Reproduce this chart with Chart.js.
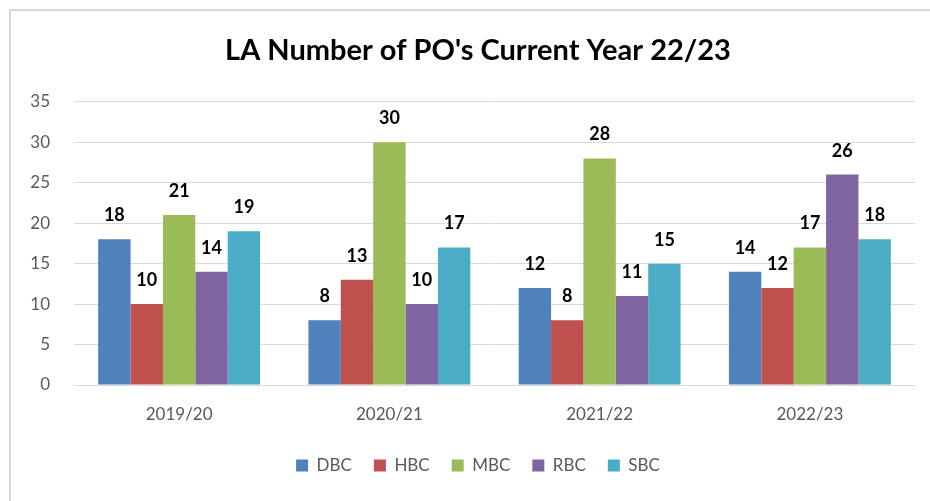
<!DOCTYPE html>
<html>
<head>
<meta charset="utf-8">
<script src="https://cdn.jsdelivr.net/npm/chart.js@4"></script>
<style>
  html, body { margin: 0; padding: 0; background: #fff; }
  #wrap { position: relative; width: 930px; height: 501px; overflow: hidden; }
  #frame { position: absolute; left: 9px; top: 9px; width: 960px; height: 540px; border: 2px solid #d9d9d9; box-sizing: border-box; }
  #c { position: absolute; left: 0; top: 0; }
</style>
</head>
<body>
<div id="wrap">
  <div id="frame"></div>
  <canvas id="c" width="930" height="501"></canvas>
</div>
<script>
const years = ['2019/20', '2020/21', '2021/22', '2022/23'];
const dbc = [18, 8, 12, 14];
const hbc = [10, 13, 8, 12];
const mbc = [21, 30, 28, 17];
const rbc = [14, 10, 11, 26];
const sbc = [19, 17, 15, 18];
const yTicks = [0, 5, 10, 15, 20, 25, 30, 35];

const fontFamily = 'Lato, "Open Sans", sans-serif';

// draw the value above every bar
const valueLabels = {
    id: 'valueLabels',
    afterDatasetsDraw(chart) {
        const ctx = chart.ctx;
        ctx.save();
        ctx.font = 'bold 18px ' + fontFamily;
        ctx.fillStyle = '#000';
        ctx.textAlign = 'center';
        ctx.textBaseline = 'alphabetic';
        chart.data.datasets.forEach((ds, i) => {
            chart.getDatasetMeta(i).data.forEach((bar, j) => {
                ctx.fillText(ds.data[j], bar.x, bar.y - 18);
            });
        });
        ctx.restore();
    }
};

new Chart(document.getElementById('c').getContext('2d'), {
    type: 'bar',
    data: {
        labels: years,
        datasets: [
            { label: 'DBC', data: dbc, backgroundColor: '#4F81BD' },
            { label: 'HBC', data: hbc, backgroundColor: '#C0504D' },
            { label: 'MBC', data: mbc, backgroundColor: '#9BBB59' },
            { label: 'RBC', data: rbc, backgroundColor: '#8064A2' },
            { label: 'SBC', data: sbc, backgroundColor: '#4BACC6' }
        ]
    },
    options: {
        responsive: false,
        animation: false,
        datasets: { bar: { barPercentage: 1, categoryPercentage: 0.77 } },
        layout: { padding: { left: 41, right: 15, top: 0, bottom: 17 } },
        scales: {
            y: {
                min: 0, max: 35,
                afterBuildTicks: (s) => { s.ticks = yTicks.map(v => ({ value: v })); },
                afterFit: (s) => {
                    s.width = 33;
                    // labels hang out past the narrow axis box, so don't clip them
                    s._computeLabelArea = () => undefined;
                },
                ticks: { color: '#595959', font: { family: fontFamily, size: 17 }, padding: 24 },
                grid: { color: '#d9d9d9', drawTicks: false },
                border: { display: false }
            },
            x: {
                afterFit: (s) => { s.height = 50; },
                ticks: { color: '#595959', font: { family: fontFamily, size: 17 }, padding: 19 },
                grid: { display: false, drawTicks: false },
                border: { color: '#d9d9d9' }
            }
        },
        plugins: {
            title: {
                display: true,
                text: "LA Number of PO's Current Year 22/23",
                color: '#000',
                font: { family: fontFamily, size: 29, weight: 'bold' },
                padding: { top: 33, bottom: 34 }
            },
            legend: {
                position: 'bottom',
                labels: {
                    color: '#595959',
                    font: { family: fontFamily, size: 17 },
                    boxWidth: 12, boxHeight: 12,
                    padding: 22
                }
            },
            tooltip: { enabled: false }
        }
    },
    plugins: [valueLabels]
});
</script>
</body>
</html>
